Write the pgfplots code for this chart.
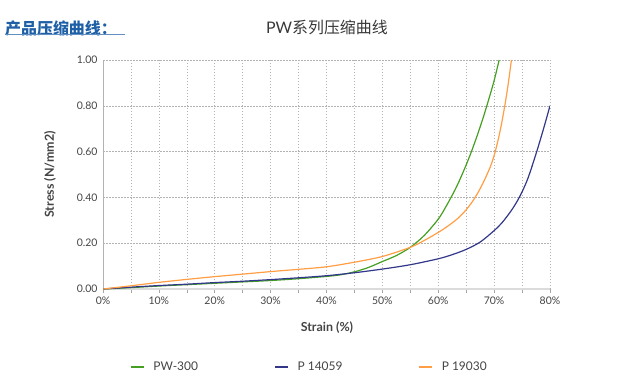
\documentclass[border=0pt]{standalone}
\usepackage{fontspec}
\setmainfont{Lato}
\newfontfamily\cjk{Noto Sans CJK SC}
\usepackage{pgfplots}
\pgfplotsset{compat=1.18}
\definecolor{cgreen}{HTML}{45A022}
\definecolor{cnavy}{HTML}{32378A}
\definecolor{corange}{HTML}{FF9E45}
\definecolor{ctext}{HTML}{444444}
\definecolor{chead}{HTML}{1E5FA6}
\begin{document}
\begin{tikzpicture}
\path[use as bounding box] (-103bp,-97bp) rectangle (540bp,289bp);
\node[anchor=west, inner sep=0pt, text=chead, font={\fontsize{16}{18}\selectfont\cjk\bfseries}] at (-98bp,261bp) {产品压缩曲线：};
\draw[chead!70, line width=1bp] (-98bp,254bp) -- (22bp,254bp);
\begin{axis}[
  at={(0,0)}, anchor=south west,
  scale only axis, width=447bp, height=229bp,
  xmin=0, xmax=80, ymin=0, ymax=1,
  axis lines=left,
  axis line style={-},
  x axis line style={draw=black!14, line width=2bp},
  y axis line style={draw=black!30, line width=0.8bp},
  xtick={0,10,20,30,40,50,60,70,80},
  minor xtick={5,15,25,35,45,55,65,75},
  ytick={0,0.2,0.4,0.6,0.8,1},
  xticklabel={\pgfmathprintnumber{\tick}\%},
  yticklabel style={/pgf/number format/fixed, /pgf/number format/fixed zerofill, /pgf/number format/precision=2},
  /pgf/number format/assume math mode=true,
  tick label style={font=\fontsize{10.5}{12}\selectfont, text=ctext},
  xtick align=outside,
  major tick length=4bp, minor tick length=4bp,
  x tick style={draw=black!35, line width=0.6bp},
  ytick style={draw=none},
  grid=both,
  major grid style={draw=black!30, line width=0.5bp, dash pattern=on 1.5bp off 1.5bp},
  minor grid style={draw=black!30, line width=0.5bp, dash pattern=on 1.5bp off 1.5bp},
  xlabel={Strain (\%)},
  ylabel={Stress (N/mm2)},
  label style={font=\fontsize{12.5}{14}\selectfont\bfseries, text=ctext},
  xlabel style={at={(axis description cs:0.501,-0.17)}, anchor=center},
  ylabel style={at={(axis description cs:-0.1186,0.5)}, anchor=center, rotate=0},
  title={\fontsize{16}{19}\selectfont PW{\cjk 系列压缩曲线}},
  title style={at={(axis description cs:0.501,1.118)}, anchor=center, text=black!78},
  legend columns=3,
  legend style={draw=none, fill=none, at={(axis description cs:0.0537,-0.3406)}, anchor=west,
    nodes={inner sep=0pt, font=\fontsize{12}{14}\selectfont, text=ctext},
    /tikz/every odd column/.append style={column sep=9bp},
    /tikz/every even column/.append style={column sep=0bp}},
  legend image code/.code={\draw[#1] (0bp,0bp) -- (13bp,0bp);},
]
\addplot[cgreen, line width=1.2bp, smooth] coordinates {
(0,0) (5,0.006) (10,0.013) (15,0.019) (20,0.025) (25,0.031) (30,0.037) (35,0.045) (40,0.055) (42.5,0.062) (45,0.075) (47.5,0.094) (50,0.12) (52.5,0.146) (55,0.182) (57.5,0.234) (60,0.305) (61.5,0.365) (63,0.433) (64,0.485) (65,0.542) (66,0.604) (67,0.672) (68,0.745) (69,0.825) (70,0.91) (70.9,1.0)
};
\addlegendentry{\makebox[121bp][l]{PW-300}}
\addplot[cnavy, line width=1.2bp, smooth] coordinates {
(0,0) (5,0.008) (10,0.015) (15,0.021) (20,0.028) (25,0.034) (30,0.041) (35,0.049) (40,0.058) (45,0.071) (50,0.087) (55,0.106) (60,0.132) (62.5,0.150) (65,0.173) (67.5,0.205) (70,0.255) (71.5,0.292) (73,0.34) (74,0.378) (75,0.424) (76,0.48) (77,0.552) (78,0.63) (79,0.713) (80,0.80)
};
\addlegendentry{\makebox[121bp][l]{P 14059}}
\addplot[corange, line width=1.2bp, smooth] coordinates {
(0,0) (5,0.014) (10,0.029) (15,0.042) (20,0.054) (25,0.065) (30,0.076) (35,0.086) (40,0.097) (45,0.117) (50,0.142) (55,0.182) (57.5,0.212) (60,0.247) (61.5,0.271) (63,0.298) (64,0.32) (65,0.346) (66,0.378) (67,0.416) (68,0.462) (69,0.515) (69.6,0.552) (70.2,0.60) (70.8,0.66) (71.3,0.718) (71.8,0.785) (72.4,0.875) (73.1,1.0)
};
\addlegendentry{\makebox[121bp][l]{P 19030}}
\end{axis}
\end{tikzpicture}
\end{document}
